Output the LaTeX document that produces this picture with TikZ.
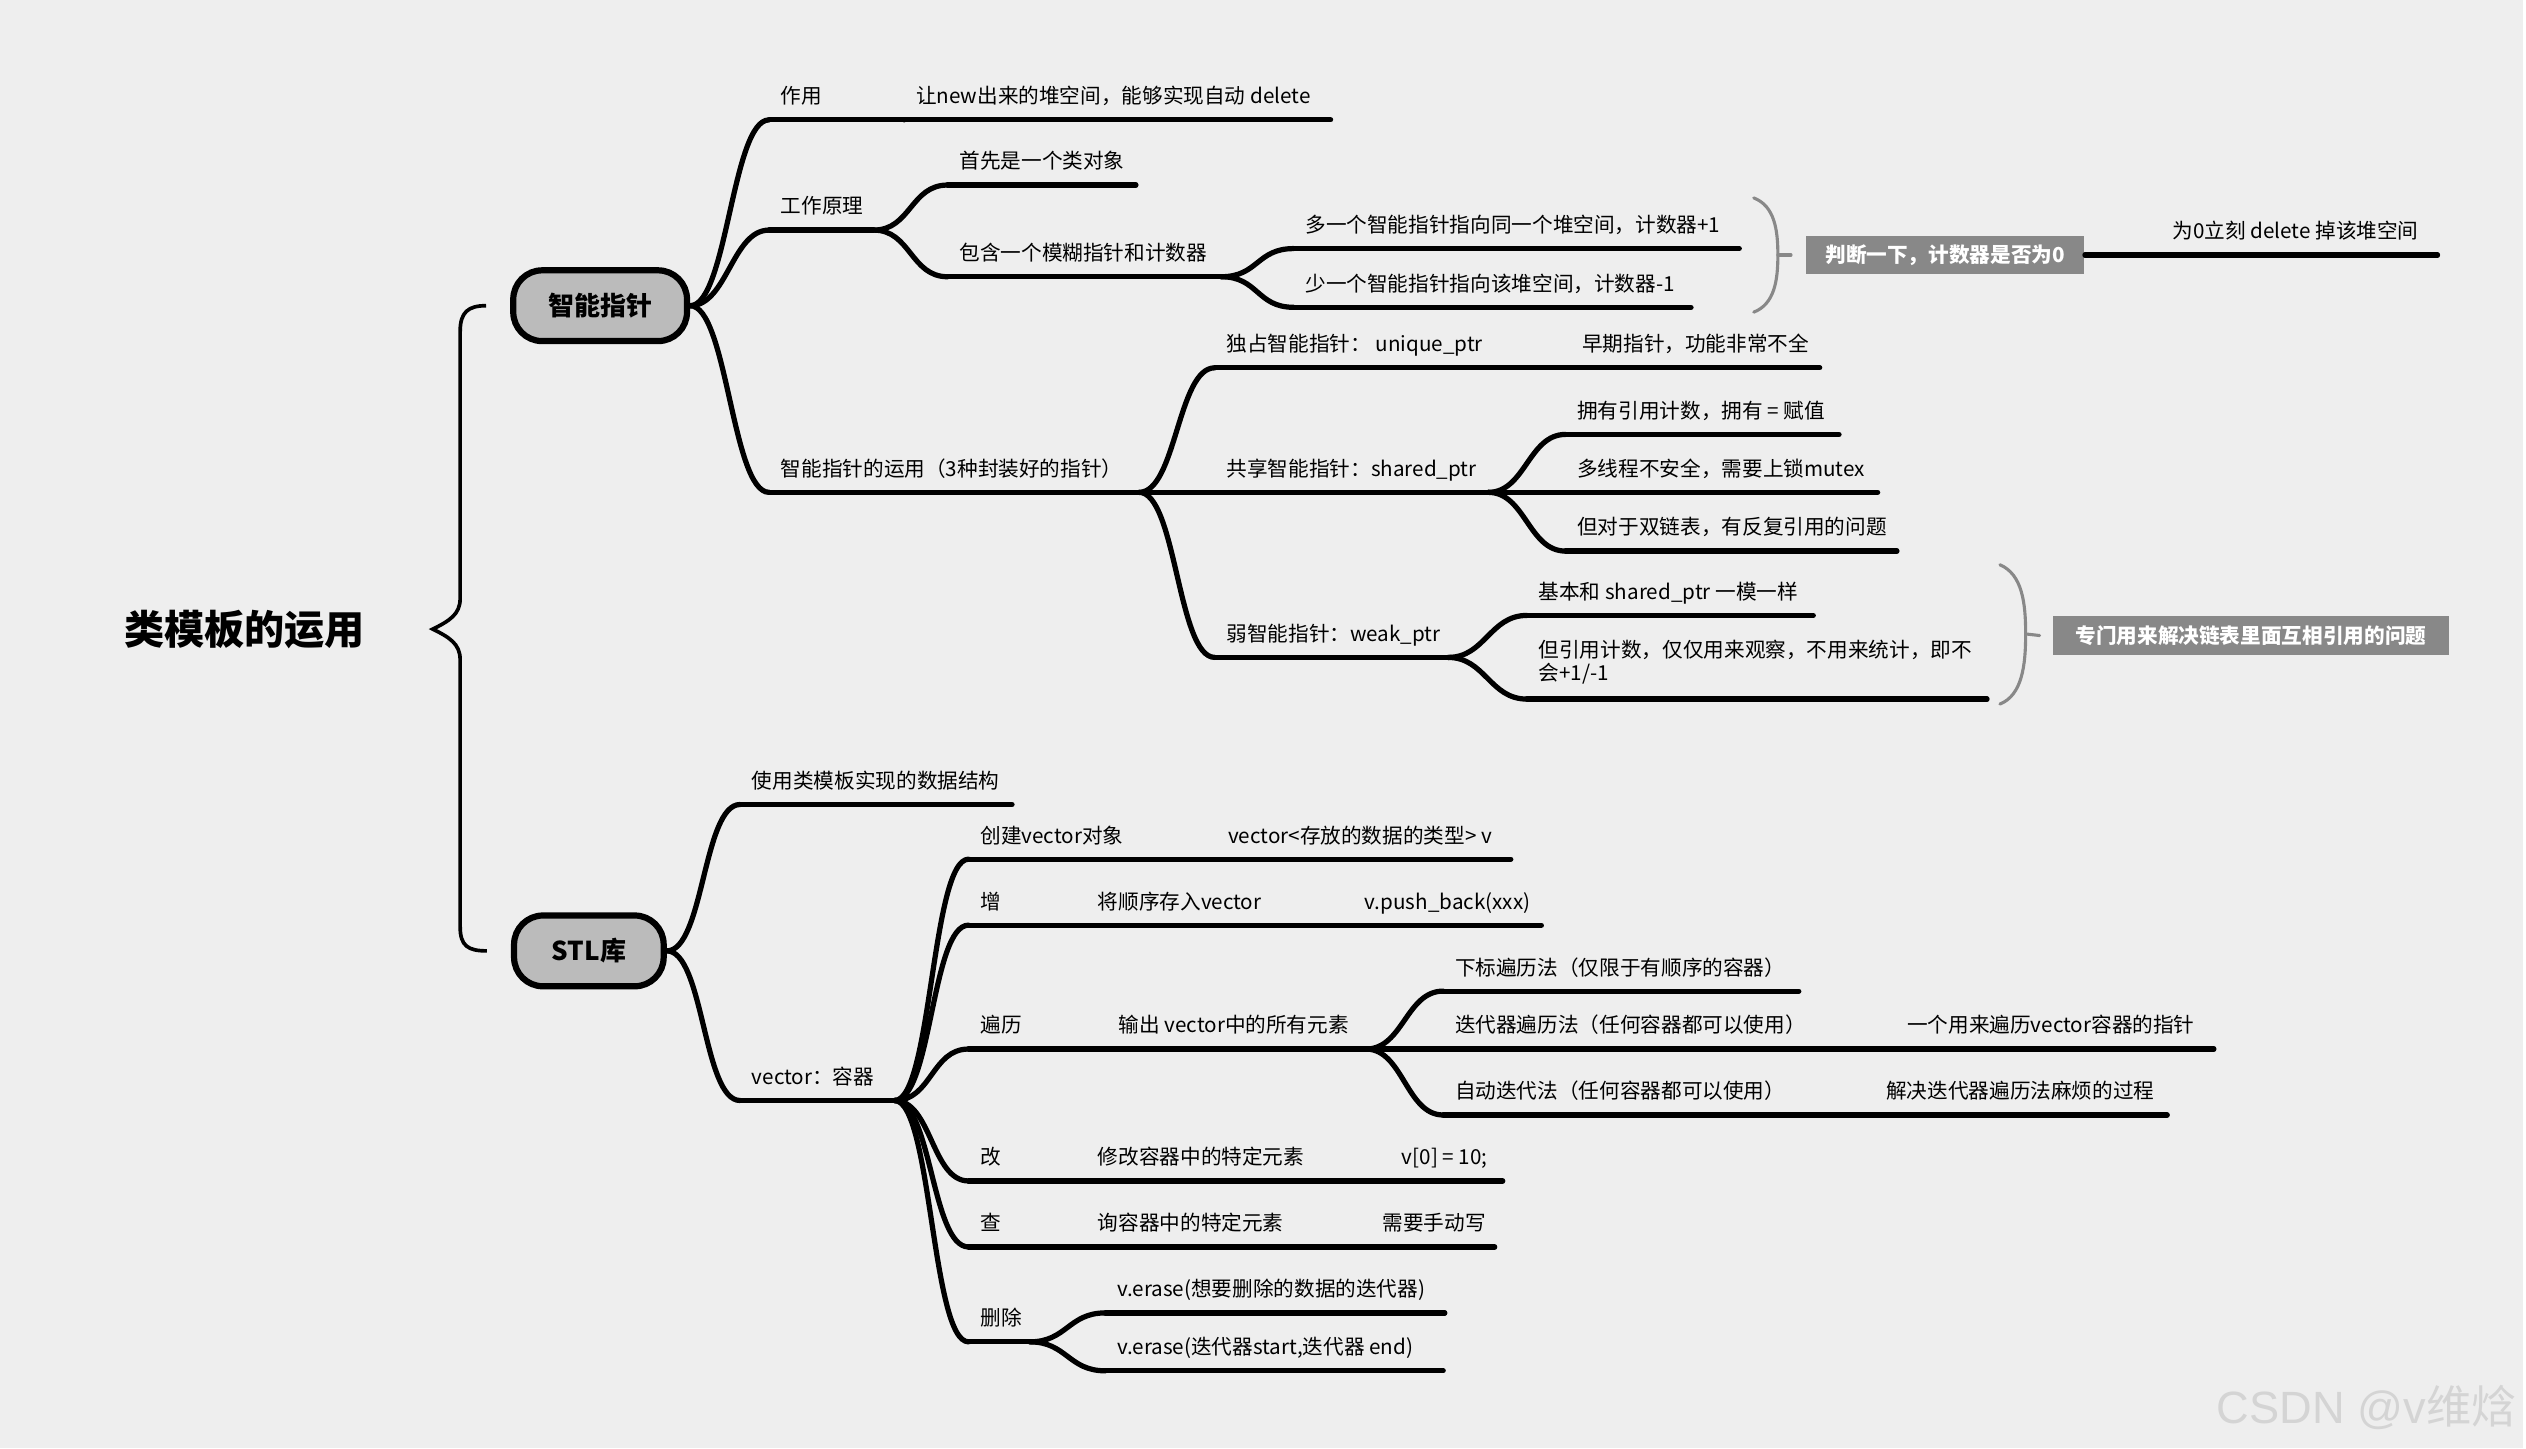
\documentclass[tikz,border=0pt]{standalone}
\usepackage{fontspec}
\setmainfont{Noto Sans CJK SC}
\newfontfamily\wmfont{Liberation Sans}
\definecolor{bgcol}{HTML}{EEEEEE}
\definecolor{nodefill}{HTML}{BBBBBB}
\definecolor{tagfill}{HTML}{888888}
% underlined topic: name, start x, line y, end x, text
\newcommand\topic[5]{%
  \coordinate (#1-s) at (#2,#3);
  \coordinate (#1-e) at (#4,#3);
  \draw[branch] (#1-s) -- (#1-e);
  \node[lbl] (#1) at ([shift={(7,-10)}]#1-s) {#5};}

\begin{document}
\begin{tikzpicture}[x=0.02cm,y=-0.02cm,
  branch/.style={line width=1.85pt,line cap=round},
  fork/.style={to path={.. controls +(#1,0) and +(-#1,0) .. (\tikztotarget)}},
  fork/.default=23,
  lbl/.style={anchor=base west,inner sep=0pt,align=left,font=\fontsize{7.3}{8}\selectfont},
  main/.style={draw,line width=2.2pt,fill=nodefill,rounded corners=0.36cm,minimum height=0.88cm,font=\fontsize{9.2}{10}\selectfont\bfseries},
  tag/.style={fill=tagfill,text=white,minimum height=0.48cm,inner sep=0pt,font=\fontsize{7.3}{8}\selectfont\bfseries},
  bracket/.style={draw=tagfill,line width=1.1pt,line cap=round}]
% background
\fill[bgcol] (0,0) rectangle (1568,900);
% root and main topics
\node[font=\fontsize{14.2}{16}\selectfont\bfseries] (root) at (152,391) {类模板的运用};
\node[main,minimum width=2.16cm] (zn) at (373,190) {智能指针};
\node[main,minimum width=1.86cm] (stl) at (366,591) {STL库};
\coordinate (tip) at (269,391);
\draw[line width=1.3pt] ([xshift=-0.3cm]zn.west) .. controls (291,190) and (286,194) .. (286,206) -- (286,372)
  .. controls (286,382) and (279,386) .. (tip) .. controls (279,396) and (286,400) .. (286,410)
  -- (286,576) .. controls (286,588) and (291,591) .. ([xshift=-0.3cm]stl.west);

% smart pointer
\topic{zy}{478}{74.5}{562}{作用}
\topic{zy1}{562}{74.5}{827}{让new出来的堆空间，能够实现自动 delete}
\topic{gz}{478}{143}{543}{工作原理}
\topic{gz1}{589}{115}{706}{首先是一个类对象}
\topic{gz2}{589}{172}{759}{包含一个模糊指针和计数器}
\topic{gz21}{804}{154.5}{1081}{多一个智能指针指向同一个堆空间，计数器+1}
\topic{gz22}{804}{191}{1051}{少一个智能指针指向该堆空间，计数器-1}
\topic{zero}{1343}{158.5}{1515}{为0立刻 delete 掉该堆空间}
\topic{use}{478}{306}{708}{智能指针的运用（3种封装好的指针）}
\topic{uq}{755}{228.6}{927}{独占智能指针： unique\_ptr}
\topic{uq1}{976}{228.6}{1131}{早期指针，功能非常不全}
\topic{sh}{755}{306}{925}{共享智能指针：shared\_ptr}
\topic{sh1}{973}{270}{1143}{拥有引用计数，拥有 = 赋值}
\topic{sh2}{973}{306}{1167}{多线程不安全，需要上锁mutex}
\topic{sh3}{973}{342.5}{1179}{但对于双链表，有反复引用的问题}
\topic{wk}{755}{408.6}{900}{弱智能指针：weak\_ptr}
\topic{wk1}{949}{382.5}{1127}{基本和 shared\_ptr 一模一样}
\coordinate (wk2-s) at (949,434.5);
\coordinate (wk2-e) at (1235,434.5);
\draw[branch] (wk2-s) -- (wk2-e);
\node[lbl] (wk2) at ([shift={(7,-11.5)}]wk2-s) {但引用计数，仅仅用来观察，不用来统计，即不\\会+1/-1};

\node[tag,minimum width=3.46cm] (judge) at (1209,158.5) {判断一下，计数器是否为0};
\node[tag,minimum width=4.92cm] (mutual) at (1399,395) {专门用来解决链表里面互相引用的问题};
\draw[bracket] (1090,123) .. controls (1103,128) and (1105,143) .. (1105,158.5) .. controls (1105,174) and (1103,189) .. (1090,194);
\draw[bracket] (1105,158.5) -- ([xshift=-0.18cm]judge.west);
\draw[bracket] (1243,351) .. controls (1257,357) and (1259,375) .. (1259,394) .. controls (1259,413) and (1257,432) .. (1243,437.6);
\draw[bracket] (1259,394) -- ([xshift=-0.16cm]mutual.west);

\foreach \c in {zy,gz,use} \draw[branch] (zn.east) to[fork] (\c-s);
\foreach \c in {gz1,gz2} \draw[branch] (gz-e) to[fork] (\c-s);
\foreach \c in {gz21,gz22} \draw[branch] (gz2-e) to[fork] (\c-s);
\foreach \c in {uq,sh,wk} \draw[branch] (use-e) to[fork] (\c-s);
\foreach \c in {sh1,sh2,sh3} \draw[branch] (sh-e) to[fork] (\c-s);
\foreach \c in {wk1,wk2} \draw[branch] (wk-e) to[fork] (\c-s);
\draw[branch] (zy-e) -- (zy1-s);
\draw[branch] (uq-e) -- (uq1-s);
\draw[branch] (judge.east) -- (zero-s);

% STL
\topic{ds}{460}{500}{629}{使用类模板实现的数据结构}
\topic{vec}{460}{684}{556}{vector：容器}
\topic{cr}{602}{534}{707}{创建vector对象}
\topic{cr1}{756}{534}{939}{vector<存放的数据的类型> v}
\topic{add}{602}{575}{625}{增}
\topic{add1}{675}{575}{792}{将顺序存入vector}
\topic{add2}{841}{575}{958}{v.push\_back(xxx)}
\topic{tr}{602}{652}{641}{遍历}
\topic{tr1}{688}{652}{849}{输出 vector中的所有元素}
\topic{tr11}{897}{616}{1118}{下标遍历法（仅限于有顺序的容器）}
\topic{tr12}{897}{652}{1129}{迭代器遍历法（任何容器都可以使用）}
\topic{tr121}{1178}{652}{1376}{一个用来遍历vector容器的指针}
\topic{tr13}{897}{693}{1117}{自动迭代法（任何容器都可以使用）}
\topic{tr131}{1165}{693}{1347}{解决迭代器遍历法麻烦的过程}
\topic{md}{602}{734}{625}{改}
\topic{md1}{675}{734}{815}{修改容器中的特定元素}
\topic{md2}{864}{734}{934}{v[0] = 10;}
\topic{qr}{602}{775}{625}{查}
\topic{qr1}{675}{775}{803}{询容器中的特定元素}
\topic{qr2}{852}{775}{929}{需要手动写}
\topic{del}{602}{834}{640}{删除}
\topic{del1}{687}{816}{898}{v.erase(想要删除的数据的迭代器)}
\topic{del2}{687}{852}{897}{v.erase(迭代器start,迭代器 end)}

\foreach \c in {ds,vec} \draw[branch] (stl.east) to[fork] (\c-s);
\foreach \c in {cr,add,tr,md,qr,del} \draw[branch] (vec-e) to[fork] (\c-s);
\foreach \c in {tr11,tr12,tr13} \draw[branch] (tr1-e) to[fork] (\c-s);
\foreach \c in {del1,del2} \draw[branch] (del-e) to[fork] (\c-s);
\foreach \a/\b in {cr/cr1,add/add1,add1/add2,tr/tr1,tr12/tr121,tr13/tr131,md/md1,md1/md2,qr/qr1,qr1/qr2}
  \draw[branch] (\a-e) -- (\b-s);

% watermark
\node[text=black!17,font=\wmfont\fontsize{16}{18}\selectfont] (wm) at (1471,875) {CSDN @v{\rmfamily 维焓}};
\end{tikzpicture}
\end{document}
